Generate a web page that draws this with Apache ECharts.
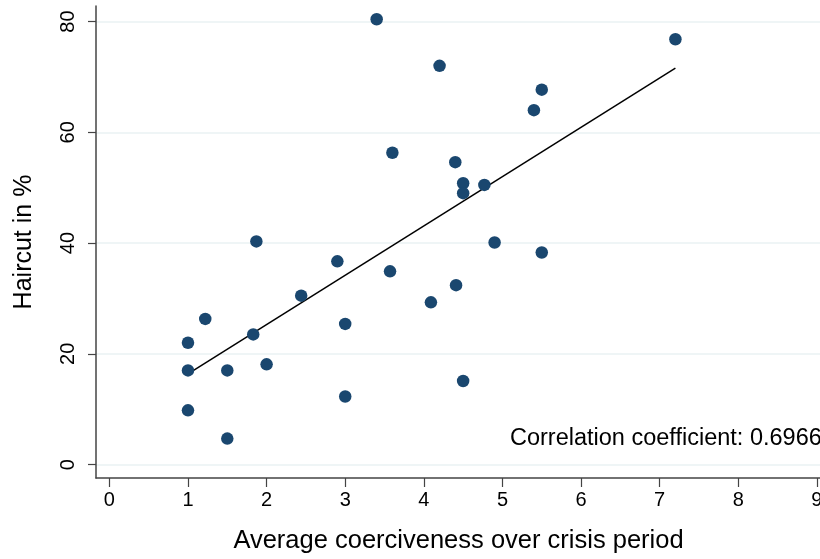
<!DOCTYPE html>
<html>
<head>
<meta charset="utf-8">
<script src="https://cdn.jsdelivr.net/npm/echarts@6/dist/echarts.min.js"></script>
<style>
  html, body { margin: 0; padding: 0; background: #fff; }
  #chart { width: 820px; height: 559px; }
</style>
</head>
<body>
<div id="chart"></div>
<script>
// average coerciveness (x) and haircut in % (y), one entry per episode
var coerciveness = [
    3.4, 7.2, 4.2, 5.5, 5.4, 3.6, 4.4, 4.5, 4.5, 4.77,
    4.9, 5.5, 1.87, 2.9, 3.57, 2.44, 4.09, 4.41, 1.22, 3.0,
    1.83, 1.0, 1.0, 1.5, 2.0, 3.0, 1.0, 1.5, 4.5
];
var haircut = [
    80.4, 76.8, 72.0, 67.7, 64.0, 56.3, 54.6, 50.8, 49.0, 50.5,
    40.1, 38.3, 40.3, 36.7, 34.9, 30.5, 29.3, 32.4, 26.3, 25.4,
    23.5, 22.0, 17.0, 17.0, 18.1, 12.3, 9.8, 4.7, 15.1
];
// fitted line end points
var fitX = [1.0, 7.2];
var fitY = [16.4, 71.6];

var xTicks = [0, 1, 2, 3, 4, 5, 6, 7, 8, 9];
var yTicks = [0, 20, 40, 60, 80];
var corrText = 'Correlation coefficient: 0.6966';

var font = '"Liberation Sans", Arial, Helvetica, sans-serif';
var navy = '#1a476f';
var axisColor = '#444';
var gridColor = '#eaf2f3';

var points = [];
for (var i = 0; i < coerciveness.length; i++)
    points.push([coerciveness[i], haircut[i]]);

var fitLine = [];
for (var j = 0; j < fitX.length; j++)
    fitLine.push([fitX[j], fitY[j]]);

var chart = echarts.init(document.getElementById('chart'));

chart.setOption({
    animation: false,
    backgroundColor: '#fff',
    textStyle: { fontFamily: font },
    grid: { left: 96, top: 6, right: -15, bottom: 81, outerBoundsMode: 'none', containLabel: false },
    xAxis: {
        type: 'value',
        min: -0.17,
        max: 9.23,
        name: 'Average coerciveness over crisis period',
        nameLocation: 'middle',
        nameGap: 50,
        // the grid runs past the right edge, so pull the title back to the visible centre
        nameTextStyle: { fontSize: 25.5, color: '#000', fontFamily: font, padding: [0, 14, 0, 0] },
        axisLine: { show: true, onZero: false, lineStyle: { color: axisColor, width: 1.5 } },
        axisTick: { show: true, length: 9, customValues: xTicks, lineStyle: { color: axisColor, width: 1.2 } },
        axisLabel: { customValues: xTicks, fontSize: 20, color: '#000', margin: 12, fontFamily: font },
        splitLine: { show: false }
    },
    yAxis: {
        type: 'value',
        min: -2.42,
        max: 82.8,
        name: 'Haircut in %',
        nameLocation: 'middle',
        nameGap: 59,
        nameTextStyle: { fontSize: 25, color: '#000', fontFamily: font },
        axisLine: { show: true, onZero: false, lineStyle: { color: axisColor, width: 1.5 } },
        axisTick: { show: true, length: 8, customValues: yTicks, lineStyle: { color: axisColor, width: 1.2 } },
        axisLabel: { customValues: yTicks, rotate: 90, fontSize: 20, color: '#000', margin: 18, fontFamily: font },
        splitLine: { show: true, lineStyle: { color: gridColor, width: 1.5 } }
    },
    series: [
        {
            type: 'scatter',
            data: points,
            symbolSize: 12.5,
            itemStyle: { color: navy, opacity: 1 },
            z: 3
        },
        {
            type: 'line',
            data: fitLine,
            showSymbol: false,
            symbol: 'none',
            lineStyle: { color: '#000', width: 1.5 },
            z: 2
        }
    ],
    graphic: [
        {
            type: 'text',
            left: 510,
            top: 427,
            style: { text: corrText, fontSize: 23.5, fill: '#000', fontFamily: font }
        }
    ]
});
</script>
</body>
</html>
